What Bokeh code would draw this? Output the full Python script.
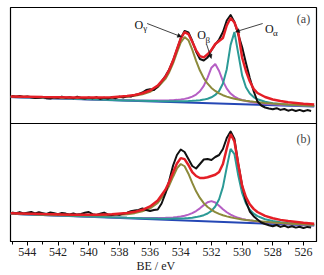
from bokeh.plotting import figure
from bokeh.models import Range1d, FixedTicker, Span, Label, Arrow, NormalHead, Title
from bokeh.embed import file_html
from bokeh.resources import INLINE

# ---------------- data (binding energy in eV, intensity in arbitrary units) -------------
fit_be = [545.1, 543, 541, 539.5, 538.5, 537.5, 537, 536.5, 536, 535.5, 535, 534.75, 534.5,
          534.25, 534, 533.75, 533.5, 533.25, 533, 532.75, 532.5, 532.25, 532, 531.75, 531.5,
          531.25, 531, 530.75, 530.5, 530.25, 530, 529.75, 529.5, 529.25, 529, 528.5, 528,
          527.5, 527, 526, 525.3]

# panel (a)
a_gamma = [26.95, 26.17, 25.61, 25.52, 25.79, 26.71, 27.63, 29.15, 31.73, 36.26, 44.62, 51.30,
           60.08, 70.76, 81.04, 86.42, 83.30, 73.88, 62.66, 52.94, 45.42, 39.80, 35.57, 32.55,
           30.13, 28.31, 26.86, 25.69, 24.72, 23.92, 23.24, 22.66, 22.14, 21.69, 21.29, 20.59,
           20.00, 19.50, 19.05, 18.26, 17.77]
a_beta = [26.59, 25.61, 24.70, 24.05, 23.65, 23.29, 23.14, 23.03, 22.95, 22.94, 23.05, 23.17,
          23.35, 23.63, 24.04, 24.63, 25.51, 26.84, 28.91, 32.23, 37.60, 45.90, 55.78, 59.58,
          52.50, 42.38, 34.83, 29.98, 26.90, 24.87, 23.46, 22.45, 21.68, 21.08, 20.60, 19.84,
          19.27, 18.81, 18.41, 17.73, 17.30]
a_alpha = [26.57, 25.58, 24.65, 23.97, 23.53, 23.12, 22.92, 22.74, 22.58, 22.43, 22.32, 22.28,
           22.26, 22.27, 22.29, 22.36, 22.47, 22.64, 22.91, 23.30, 23.90, 24.80, 26.21, 28.52,
           32.52, 39.93, 54.33, 78.61, 91.35, 69.89, 48.14, 36.26, 29.98, 26.41, 24.20, 21.70,
           20.35, 19.49, 18.86, 17.95, 17.45]
a_env = [27.11, 26.38, 25.92, 25.94, 26.35, 27.46, 28.51, 30.22, 33.04, 37.91, 46.75, 53.75,
         62.93, 74.14, 85.09, 91.37, 89.48, 81.80, 73.16, 67.39, 66.08, 69.20, 73.50, 79.50,
         82.50, 85.50, 98.00, 105.50, 101.00, 91.00, 66.00, 52.50, 42.30, 34.60, 30.50, 26.50,
         24.00, 22.50, 21.30, 19.80, 19.00]

# panel (b)
b_gamma = [28.14, 27.12, 26.36, 26.14, 26.37, 27.32, 28.36, 30.11, 33.15, 38.58, 48.59, 56.04,
           64.79, 73.04, 77.49, 75.24, 67.79, 58.55, 50.20, 43.55, 38.40, 34.55, 31.70, 29.42,
           27.68, 26.28, 25.13, 24.19, 23.39, 22.71, 22.11, 21.60, 21.14, 20.72, 20.34, 19.66,
           19.07, 18.56, 18.08, 17.22, 16.67]
b_beta = [27.80, 26.60, 25.49, 24.70, 24.22, 23.79, 23.61, 23.49, 23.42, 23.44, 23.63, 23.81,
          24.07, 24.45, 24.99, 25.76, 26.84, 28.36, 30.44, 33.18, 36.39, 39.27, 40.40, 38.97,
          35.80, 32.29, 29.25, 26.87, 25.06, 23.68, 22.61, 21.78, 21.10, 20.54, 20.06, 19.28,
          18.66, 18.14, 17.67, 16.86, 16.34]
b_alpha = [27.80, 26.59, 25.46, 24.64, 24.13, 23.64, 23.42, 23.23, 23.06, 22.92, 22.86, 22.86,
           22.88, 22.94, 23.05, 23.22, 23.47, 23.85, 24.39, 25.17, 26.31, 28.03, 30.68, 34.96,
           42.20, 54.62, 74.19, 92.58, 87.36, 65.91, 48.58, 38.06, 31.79, 27.90, 25.34, 22.27,
           20.52, 19.38, 18.55, 17.35, 16.68]
b_env = [28.36, 27.43, 26.81, 26.76, 27.18, 28.41, 29.65, 31.67, 35.07, 40.98, 51.70, 59.63,
         68.96, 77.95, 83.35, 82.34, 76.52, 69.46, 65.50, 63.50, 63.50, 64.20, 65.50, 66.80,
         69.50, 77.50, 93.00, 107.50, 100.00, 77.00, 55.88, 44.30, 37.19, 32.62, 29.50, 25.57,
         23.21, 21.62, 20.44, 18.75, 17.85]

# linear backgrounds
base_be = [545.1, 525.3]
base_a = [26.50, 16.94]
base_b = [27.69, 15.92]

# measured spectra
meas_be = [545.0, 544.75, 544.5, 544.25, 544.0, 543.75, 543.5, 543.25, 543.0, 542.75, 542.5,
           542.25, 542.0, 541.75, 541.5, 541.25, 541.0, 540.75, 540.5, 540.25, 540.0, 539.75,
           539.5, 539.25, 539.0, 538.75, 538.5, 538.25, 538.0, 537.75, 537.5, 537.25, 537.0,
           536.75, 536.5, 536.25, 536.0, 535.75, 535.5, 535.25, 535.0, 534.75, 534.5, 534.25,
           534.0, 533.75, 533.5, 533.25, 533.0, 532.75, 532.5, 532.25, 532.0, 531.75, 531.5,
           531.25, 531.0, 530.75, 530.5, 530.25, 530.0, 529.75, 529.5, 529.25, 529.0, 528.75,
           528.5, 528.25, 528.0, 527.75, 527.5, 527.25, 527.0, 526.75, 526.5, 526.25, 526.0,
           525.75, 525.5]
meas_a = [27.5, 26.8, 27.6, 26.5, 27.0, 26.2, 25.4, 25.8, 26.6, 25.3, 25.0, 26.1, 25.4, 26.9,
          25.6, 26.3, 25.2, 26.8, 25.5, 24.9, 26.0, 25.1, 26.4, 24.6, 25.7, 24.9, 26.2, 25.3,
          26.9, 26.0, 27.4, 27.0, 28.6, 29.3, 31.0, 33.5, 34.2, 33.6, 37.0, 42.0, 47.5, 54.0,
          63.0, 74.0, 85.0, 92.5, 91.0, 82.5, 72.0, 64.5, 63.0, 66.0, 73.5, 79.0, 84.0, 91.5,
          103.0, 108.5, 101.5, 89.0, 76.5, 60.5, 45.5, 32.5, 22.0, 18.0, 16.0, 15.0, 14.2, 15.3,
          13.6, 14.5, 12.8, 13.9, 12.5, 13.6, 12.2, 13.4, 12.6]
meas_b = [29.0, 28.3, 29.4, 28.0, 28.8, 29.6, 28.1, 29.3, 28.4, 27.5, 29.0, 28.2, 27.3, 28.6,
          27.9, 27.0, 28.1, 26.9, 27.6, 28.8, 29.5, 27.3, 26.6, 27.8, 28.9, 27.0, 26.4, 27.5,
          26.8, 27.9, 28.8, 30.2, 31.0, 31.5, 33.0, 31.5, 30.5, 31.5, 32.0, 38.0, 48.0, 61.0,
          76.0, 86.5, 92.0, 89.5, 82.5, 75.5, 73.0, 77.5, 82.0, 82.5, 81.5, 84.5, 86.5, 92.5,
          103.5, 110.0, 102.5, 77.5, 56.0, 40.0, 30.0, 25.3, 22.0, 19.0, 17.5, 16.3, 15.2, 16.5,
          14.6, 15.8, 14.1, 15.3, 13.9, 14.8, 13.5, 14.6, 14.0]

major_ticks = [544, 542, 540, 538, 536, 534, 532, 530, 528, 526]
minor_ticks = [545, 543, 541, 539, 537, 535, 533, 531, 529, 527]
x_title = "BE / eV"

# labels: (text, BE, intensity, size)
peak_labels = [("O", 537.02, 98.3, "12px"), ("\u03b3", 536.45, 96.0, "9px"),
               ("O", 532.93, 88.3, "12px"), ("\u03b2", 532.38, 83.5, "9px"),
               ("O", 528.50, 95.0, "12px"), ("\u03b1", 527.98, 91.0, "9px")]
# arrows: (x_start, y_start, x_end, y_end)
peak_arrows = [(536.19, 100.0, 533.95, 86.7),
               (532.31, 79.0, 532.01, 65.0),
               (528.66, 100.0, 530.43, 91.7)]

# ---------------- figure -----------------
FONT = "Liberation Serif"
C_RED, C_OLIVE, C_PURPLE = "#e41e26", "#8c8a3b", "#b55fc4"
C_TEAL, C_BLUE, C_BLACK = "#2b9a96", "#2547b5", "#111111"

p = figure(width=324, height=275, output_backend="svg", toolbar_location=None,
           x_range=Range1d(545.1, 525.15), y_range=Range1d(0, 234),
           min_border_left=10, min_border_right=8, min_border_top=7, min_border_bottom=34,
           y_axis_location=None)
p.extra_y_ranges = {"a": Range1d(-118, 116)}
p.grid.visible = False
p.background_fill_color = "white"
p.border_fill_color = "white"
p.outline_line_color = "black"
p.outline_line_width = 1.2

ax = p.xaxis[0]
ax.ticker = FixedTicker(ticks=major_ticks, minor_ticks=minor_ticks)
ax.axis_line_color = "black"
ax.axis_line_width = 1.2
ax.major_tick_out = 4
ax.major_tick_in = 0
ax.minor_tick_out = 3
ax.minor_tick_in = 0
ax.major_tick_line_color = "black"
ax.minor_tick_line_color = "black"
ax.major_label_text_font = FONT
ax.major_label_text_font_size = "12px"
ax.major_label_text_color = "#222222"
ax.major_label_standoff = 2

def draw(yname, gamma, beta, alpha, env, base, meas):
    kw = {} if yname is None else {"y_range_name": yname}
    p.line(base_be, base, line_color=C_BLUE, line_width=2, **kw)
    p.line(fit_be, beta, line_color=C_PURPLE, line_width=2, **kw)
    p.line(fit_be, alpha, line_color=C_TEAL, line_width=2, **kw)
    p.line(fit_be, gamma, line_color=C_OLIVE, line_width=2, **kw)
    p.line(meas_be, meas, line_color=C_BLACK, line_width=2, line_join="round", **kw)
    p.line(fit_be, env, line_color=C_RED, line_width=2.5, **kw)

draw("a", a_gamma, a_beta, a_alpha, a_env, base_a, meas_a)
draw(None, b_gamma, b_beta, b_alpha, b_env, base_b, meas_b)

p.add_layout(Span(location=118, dimension="width", line_color="black", line_width=1.2))

for txt, x, y, size in peak_labels:
    p.add_layout(Label(x=x, y=y, y_range_name="a", text=txt, text_font=FONT,
                       text_font_size=size, text_color="#111111",
                       text_align="left", text_baseline="alphabetic"))
for x0, y0, x1, y1 in peak_arrows:
    p.add_layout(Arrow(x_start=x0, y_start=y0, x_end=x1, y_end=y1, y_range_name="a",
                       line_color="#111111", line_width=0.8,
                       end=NormalHead(size=4, fill_color="#111111", line_color="#111111",
                                      line_width=0.5)))

p.add_layout(Label(x=526.0, y=104.5, y_range_name="a", text="(a)", text_font=FONT,
                   text_font_size="12px", text_align="center", text_baseline="middle"))
p.add_layout(Label(x=526.0, y=103.0, text="(b)", text_font=FONT,
                   text_font_size="12px", text_align="center", text_baseline="middle"))

p.add_layout(Title(text=x_title, align="left", offset=126, text_font=FONT,
                   text_font_size="12px", text_font_style="normal",
                   text_color="#222222", standoff=-3), "below")

open("out.html", "w").write(file_html(p, INLINE))
